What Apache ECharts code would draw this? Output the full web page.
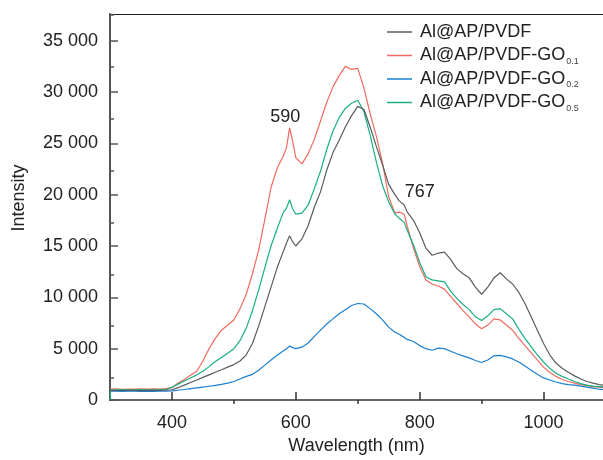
<!DOCTYPE html>
<html><head><meta charset="utf-8">
<script src="https://cdn.jsdelivr.net/npm/echarts@6/dist/echarts.min.js"></script>
<style>html,body{margin:0;padding:0;background:#fff}#c{width:603px;height:460px}</style>
</head><body><div id="c"></div>
<script>
const wavelengths = [300,301,310,320,330,340,350,360,370,380,390,400,410,420,430,440,450,460,470,480,490,500,510,520,530,540,550,560,570,580,585,590,595,600,610,620,630,640,650,660,670,680,690,700,710,720,730,740,750,760,767,775,780,790,800,810,820,830,840,850,860,870,880,890,900,910,920,930,940,950,960,970,980,990,1000,1010,1020,1030,1040,1050,1060,1070,1080,1090,1100];
const pvdf = [930,940,920,950,930,940,920,950,930,940,950,1000,1200,1450,1700,1950,2200,2450,2700,2950,3200,3450,3800,4400,5500,7200,9100,11000,12900,14500,15300,16000,15400,15000,15700,17000,18800,20300,22400,24100,25300,26600,27700,28600,28300,26600,24700,22900,21000,20000,19400,19000,18300,17500,16300,14800,14100,14300,14400,13700,12800,12300,11900,11000,10300,11000,11900,12400,11800,11300,10500,9400,8100,6800,5500,4400,3600,3100,2700,2350,2050,1800,1650,1500,1400];
const go01 = [1050,1060,1080,1040,1070,1050,1090,1060,1080,1050,1100,1200,1650,2000,2400,2800,3800,5000,6000,6800,7300,7800,8900,10300,12300,14600,17600,20700,22600,23800,24600,26500,25200,23600,23000,24000,25400,27200,29000,30500,31600,32500,32200,32300,30400,27900,25700,23100,19800,18200,18300,18100,16900,14800,13000,11700,11300,11100,10800,10100,9400,8700,8100,7400,6950,7300,7900,7800,7300,6800,6000,5300,4600,3900,3200,2700,2300,2000,1800,1650,1500,1400,1300,1250,1200];
const go02 = [850,840,860,830,850,860,840,850,830,850,860,880,950,1020,1100,1180,1260,1340,1420,1520,1650,1800,2050,2300,2500,2900,3400,3900,4350,4800,5000,5250,5100,5000,5150,5550,6200,6800,7400,7900,8400,8800,9200,9400,9350,8900,8400,7800,7100,6600,6400,6100,5900,5700,5300,5000,4850,5050,5000,4750,4500,4300,4100,3850,3650,3900,4300,4350,4200,4000,3700,3300,2900,2500,2150,1950,1750,1600,1500,1450,1350,1250,1150,1050,1000];
const go05 = [0,1000,990,1010,1000,980,1010,1000,990,1010,1000,1250,1550,1850,2150,2450,2800,3250,3750,4150,4550,5000,5800,7000,8700,10700,12900,15000,16700,18300,18700,19500,18600,18100,18200,19000,20600,22300,24400,26200,27500,28400,28900,29200,28100,25800,23200,20900,19300,18100,17700,17300,16500,15100,13400,12000,11700,11600,11500,10600,9900,9300,8800,8100,7750,8200,8800,8900,8400,7900,6900,6000,5200,4400,3700,3100,2600,2300,2050,1800,1600,1450,1350,1300,1250];

const seriesNames = ['Al@AP/PVDF','Al@AP/PVDF-GO0.1','Al@AP/PVDF-GO0.2','Al@AP/PVDF-GO0.5'];
const seriesValues = [pvdf, go01, go02, go05];
const seriesColors = ['#585c62','#ef6b5f','#1a7fd0','#1aae80'];

const xMajorTicks = [400,600,800,1000];
const xMinorTicks = [500,700,900];
const yMajorTicks = [0,5000,10000,15000,20000,25000,30000,35000];
const yMinorTicks = [2500,7500,12500,17500,22500,27500,32500,37500];

const peakLabels = [
  {text:'590', x:583, y:27600},
  {text:'767', x:800, y:20240}
];

const fontFam = '"Liberation Sans", Arial, sans-serif';
const fmtY = v => v === 0 ? '0' : String(v).replace(/\B(?=(\d{3})+(?!\d))/g, ' ');

const chart = echarts.init(document.getElementById('c'), null, {renderer:'canvas'});
const gridRect = {left:110, right:0, top:14, bottom:56};
const X_MIN = 300, X_MAX = 1096, Y_MIN = 0, Y_MAX = 37600;

const series = seriesNames.map((n,i) => ({
  name: n, type:'line', xAxisIndex:0, yAxisIndex:0,
  data: wavelengths.map((w,k) => [w, seriesValues[i][k]]),
  symbol:'none', showSymbol:false,
  lineStyle:{color:seriesColors[i], width:1.2},
  itemStyle:{color:seriesColors[i]},
  animation:false, z: i===0 ? 3 : 2
}));
series[0].markPoint = {
  symbol:'circle', symbolSize:1, itemStyle:{color:'rgba(0,0,0,0)'},
  label:{show:true, position:'inside', color:'#222', fontSize:18, fontFamily:fontFam, formatter: p => p.name},
  data: peakLabels.map(a => ({name:a.text, coord:[a.x, a.y]}))
};

chart.setOption({
  animation:false,
  textStyle:{fontFamily:fontFam},
  grid:[Object.assign({}, gridRect), Object.assign({}, gridRect)],
  legend:{
    orient:'vertical', left:382, top:18, itemGap:4, itemWidth:25, itemHeight:1.5,
    icon:'rect',
    data: seriesNames,
    textStyle:{fontSize:18, color:'#222', fontFamily:fontFam, padding:[0,0,0,3],
      rich:{
        m:{fontSize:18, color:'#222', lineHeight:18, fontFamily:fontFam},
        s:{fontSize:9, color:'#444', lineHeight:9, padding:[6,0,-6,1], fontFamily:fontFam}
      }},
    formatter: name => {
      const m = name.match(/^(.*GO)(0\.\d)$/);
      return m ? '{m|' + m[1] + '}{s|' + m[2] + '}' : '{m|' + name + '}{s| }';
    }
  },
  xAxis:[
    {type:'value', gridIndex:0, position:'bottom', min:X_MIN, max:X_MAX,
     name:'Wavelength (nm)', nameLocation:'middle', nameGap:37,
     nameTextStyle:{fontSize:18, color:'#222', fontFamily:fontFam},
     axisLine:{show:true, onZero:false, lineStyle:{color:'#333', width:1.5}},
     axisTick:{show:true, inside:true, length:8, customValues:xMajorTicks, lineStyle:{color:'#333', width:1.5}},
     axisLabel:{show:true, customValues:xMajorTicks, margin:14, fontSize:18, color:'#222', fontFamily:fontFam, formatter: v => String(v)},
     splitLine:{show:false}},
    {type:'value', gridIndex:0, position:'top', min:X_MIN, max:X_MAX,
     axisLine:{show:true, onZero:false, lineStyle:{color:'#222', width:1}},
     axisTick:{show:false}, axisLabel:{show:false}, splitLine:{show:false}},
    {type:'value', gridIndex:1, position:'bottom', min:X_MIN, max:X_MAX,
     axisLine:{show:false}, axisLabel:{show:false}, splitLine:{show:false},
     axisTick:{show:true, inside:true, length:4, customValues:xMinorTicks, lineStyle:{color:'#333', width:1.5}}}
  ],
  yAxis:[
    {type:'value', gridIndex:0, position:'left', min:Y_MIN, max:Y_MAX,
     axisLine:{show:true, onZero:false, lineStyle:{color:'#555', width:2}},
     axisTick:{show:true, inside:true, length:8, customValues:yMajorTicks, lineStyle:{color:'#555', width:1.5}},
     axisLabel:{show:true, customValues:yMajorTicks, margin:12, fontSize:18, color:'#222', fontFamily:fontFam, formatter:fmtY},
     splitLine:{show:false}},
    {type:'value', gridIndex:1, position:'left', min:Y_MIN, max:Y_MAX,
     axisLine:{show:false}, axisLabel:{show:false}, splitLine:{show:false},
     axisTick:{show:true, inside:true, length:4, customValues:yMinorTicks, lineStyle:{color:'#555', width:1.5}}}
  ],
  graphic:[{type:'text', x:19, y:198, rotation:Math.PI/2,
    style:{text:'Intensity', font:'18px ' + fontFam, fill:'#222', align:'center', verticalAlign:'middle'}}],
  series: series
});
</script></body></html>
